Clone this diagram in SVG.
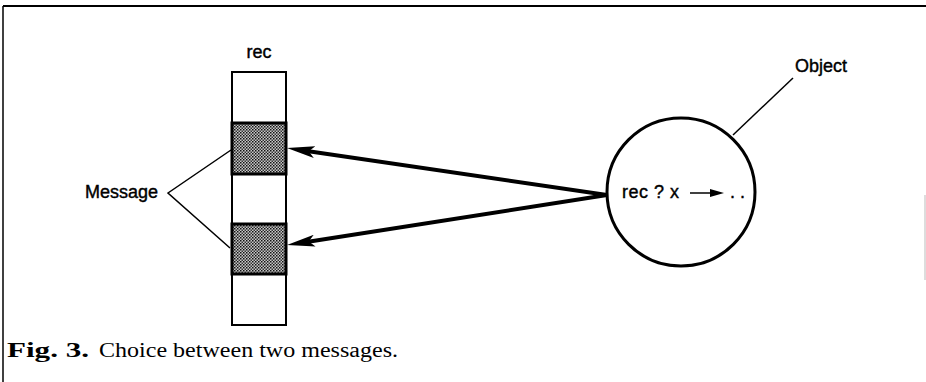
<svg xmlns="http://www.w3.org/2000/svg" width="926" height="382" viewBox="0 0 926 382">
<style>
.lbl{font-family:"Liberation Sans",Arial,sans-serif;font-size:18px;fill:#000;stroke:#000;stroke-width:0.4}
.cap{font-family:"Liberation Serif","Times New Roman",serif;font-size:20px;fill:#000}
.cell{fill:#fff;stroke:#000;stroke-width:2}
.msg{fill:url(#dots);stroke:#000;stroke-width:3}
.thin{stroke:#000;stroke-width:1.5;fill:none}
.conn{stroke:#000;stroke-width:4;fill:none}
</style>
<defs>
<pattern id="dots" width="3" height="3" patternUnits="userSpaceOnUse">
<rect width="3" height="3" fill="#c8c8c8"/>
<rect x="0" y="0" width="1.5" height="1.5" fill="#111"/>
<rect x="1.5" y="1.5" width="1.5" height="1.5" fill="#333"/>
</pattern>
<marker id="head" viewBox="0 0 28 12" refX="13" refY="6" markerWidth="28" markerHeight="12" markerUnits="userSpaceOnUse" orient="auto">
<path d="M0,0 L28,6 L0,12 L6,6 z" fill="#000"/>
</marker>
<marker id="small" viewBox="0 0 14 8" refX="4" refY="4" markerWidth="14" markerHeight="8" markerUnits="userSpaceOnUse" orient="auto">
<path d="M0,0 L14,4 L0,8 z" fill="#000"/>
</marker>
</defs>
<rect width="926" height="382" fill="#fff"/>
<g id="frame">
<line x1="3" y1="6" x2="926" y2="6" stroke="#000" stroke-width="2"/>
<line x1="3" y1="6" x2="3" y2="382" stroke="#000" stroke-width="1.5"/>
<line x1="925" y1="195" x2="925" y2="280" stroke="#bbb" stroke-width="1"/>
</g>
<g id="rec">
<text class="lbl" x="259" y="58" text-anchor="middle">rec</text>
<rect class="cell" x="232" y="72" width="54" height="51"/>
<rect class="cell" x="232" y="174" width="54" height="50"/>
<rect class="cell" x="232" y="274" width="54" height="51"/>
<rect class="msg" x="232" y="123" width="54" height="51"/>
<rect class="msg" x="232" y="224" width="54" height="50"/>
</g>
<g id="message">
<text class="lbl" x="158" y="198" text-anchor="end">Message</text>
<polyline class="thin" points="231,150 168,193 230,248"/>
</g>
<g id="object">
<circle cx="681" cy="192" r="74" fill="#fff" stroke="#000" stroke-width="3"/>
<text class="lbl" x="622" y="198" textLength="57" lengthAdjust="spacing">rec ? x</text>
<line x1="690" y1="193" x2="714" y2="193" stroke="#000" stroke-width="1.5" marker-end="url(#small)"/>
<text class="lbl" x="730" y="198">. .</text>
<text class="lbl" x="795" y="72">Object</text>
<line class="thin" x1="733" y1="135" x2="793" y2="78"/>
</g>
<g id="connectors">
<line class="conn" x1="607" y1="195" x2="301.8" y2="150.2" marker-end="url(#head)"/>
<line class="conn" x1="607" y1="195" x2="301.8" y2="242.7" marker-end="url(#head)"/>
</g>
<g id="caption">
<text class="cap" x="7" y="357" font-weight="bold" textLength="82" lengthAdjust="spacingAndGlyphs">Fig. 3.</text>
<text class="cap" x="99" y="357" textLength="299" lengthAdjust="spacingAndGlyphs">Choice between two messages.</text>
</g>
</svg>
